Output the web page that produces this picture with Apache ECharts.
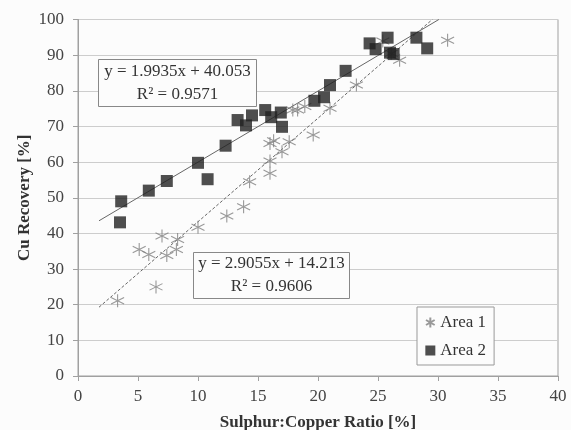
<!DOCTYPE html>
<html><head><meta charset="utf-8">
<script src="https://cdn.jsdelivr.net/npm/echarts@6/dist/echarts.min.js"></script>
<style>html,body{margin:0;padding:0;background:#fcfcfc}#c{width:571px;height:430px}</style>
</head><body><div id="c"></div>
<script>
const area1X = [3.3, 5.1, 5.9, 6.5, 7.0, 7.4, 8.2, 8.3, 10.0, 12.4, 13.8, 14.3, 16.0, 16.0, 16.0, 16.3, 17.0, 17.6, 17.9, 18.3, 18.9, 19.6, 21.0, 23.2, 25.4, 26.1, 26.8, 30.8];
const area1Y = [21.1, 35.5, 34.1, 25.0, 39.3, 33.8, 35.5, 38.3, 41.7, 44.9, 47.5, 54.5, 56.9, 60.3, 65.2, 66.0, 62.9, 65.7, 74.6, 74.6, 75.6, 67.6, 75.1, 81.6, 94.0, 90.5, 88.6, 94.2];
const area2X = [3.5, 3.6, 5.9, 7.4, 10.0, 10.8, 12.3, 13.3, 14.0, 14.5, 15.6, 16.1, 16.9, 17.0, 19.7, 20.5, 21.0, 22.3, 24.3, 24.8, 25.8, 26.0, 26.3, 28.2, 29.1];
const area2Y = [43.1, 49.0, 52.0, 54.7, 59.8, 55.2, 64.6, 71.8, 70.3, 73.1, 74.6, 72.6, 73.9, 69.9, 77.2, 78.2, 81.6, 85.6, 93.3, 91.7, 94.9, 90.7, 90.3, 94.9, 91.9];
const fit1 = {slope: 2.9055, intercept: 14.213, r2: 0.9606, x0: 1.75, x1: 29.53};
const fit2 = {slope: 1.9935, intercept: 40.053, r2: 0.9571, x0: 1.75, x1: 30.07};
const xTicks = {min: 0, max: 40, step: 5};
const yTicks = {min: 0, max: 100, step: 10};

const serif = '"Liberation Serif", "DejaVu Serif", serif';
const pts = (xs, ys) => xs.map((x, i) => [x, ys[i]]);
const fitLine = f => [[f.x0, f.slope * f.x0 + f.intercept], [f.x1, f.slope * f.x1 + f.intercept]];
const fmt = f => 'y = ' + f.slope + 'x + ' + f.intercept + '\nR² = ' + f.r2;
const starPath = 'path://M0,-10L0,10M-8.66,-5L8.66,5M-8.66,5L8.66,-5';

const chart = echarts.init(document.getElementById('c'));
chart.setOption({
  backgroundColor: '#fcfcfc',
  animation: false,
  grid: {left: 78, right: 13, top: 19.5, bottom: 54, show: true, borderColor: '#a0a0a0', borderWidth: 1,
         outerBoundsMode: 'none', containLabel: false},
  xAxis: {
    type: 'value', min: xTicks.min, max: xTicks.max, interval: xTicks.step,
    name: 'Sulphur:Copper Ratio [%]', nameLocation: 'middle', nameGap: 38, nameMoveOverlap: false,
    nameTextStyle: {fontFamily: serif, fontWeight: 'bold', fontSize: 17, color: '#333'},
    axisLine: {lineStyle: {color: '#a0a0a0'}},
    axisTick: {show: true, length: 5, lineStyle: {color: '#a0a0a0'}},
    axisLabel: {fontFamily: serif, fontSize: 17, color: '#444', margin: 12},
    splitLine: {show: false}
  },
  yAxis: {
    type: 'value', min: yTicks.min, max: yTicks.max, interval: yTicks.step,
    name: 'Cu Recovery [%]', nameLocation: 'middle', nameGap: 45, nameMoveOverlap: false,
    nameTextStyle: {fontFamily: serif, fontWeight: 'bold', fontSize: 17, color: '#333'},
    axisLine: {show: true, lineStyle: {color: '#a0a0a0'}},
    axisTick: {show: true, length: 5, lineStyle: {color: '#a0a0a0'}},
    axisLabel: {fontFamily: serif, fontSize: 17, color: '#444', margin: 14},
    splitLine: {lineStyle: {color: '#cdcdcd'}}
  },
  legend: {
    data: ['Area 1', 'Area 2'], orient: 'vertical', left: 417, top: 307,
    padding: [7, 8, 6, 8], itemGap: 11, itemWidth: 10, itemHeight: 10,
    borderColor: '#999', borderWidth: 1, backgroundColor: '#fcfcfc',
    textStyle: {fontFamily: serif, fontSize: 17, color: '#333'}
  },
  series: [
    {name: 'Area 1 fit', type: 'line', data: fitLine(fit1), symbol: 'none', silent: true,
     lineStyle: {color: '#666', width: 1, type: [3, 2]}, z: 1},
    {name: 'Area 2 fit', type: 'line', data: fitLine(fit2), symbol: 'none', silent: true,
     lineStyle: {color: '#666', width: 1}, z: 1},
    {name: 'Area 1', type: 'scatter', data: pts(area1X, area1Y), symbol: starPath, symbolSize: 13,
     itemStyle: {color: 'rgba(0,0,0,0)', borderColor: '#808080', borderWidth: 1.1}, z: 3},
    {name: 'Area 2', type: 'scatter', data: pts(area2X, area2Y), symbol: 'rect', symbolSize: 12,
     itemStyle: {color: '#222'}, z: 4}
  ],
  graphic: [
    {type: 'group', left: 98, top: 59, z: 100, children: [
      {type: 'rect', z: 100, shape: {x: 0, y: 0, width: 158, height: 47}, style: {fill: '#fcfcfc', stroke: '#888', lineWidth: 1}},
      {type: 'text', z: 101, x: 79, y: 23.5, style: {text: fmt(fit2), fontFamily: serif, fontSize: 17, fill: '#333', align: 'center', verticalAlign: 'middle', lineHeight: 23}}
    ]},
    {type: 'group', left: 193, top: 252, z: 100, children: [
      {type: 'rect', z: 100, shape: {x: 0, y: 0, width: 156, height: 46}, style: {fill: '#fcfcfc', stroke: '#888', lineWidth: 1}},
      {type: 'text', z: 101, x: 78, y: 23, style: {text: fmt(fit1), fontFamily: serif, fontSize: 17, fill: '#333', align: 'center', verticalAlign: 'middle', lineHeight: 23}}
    ]}
  ]
});
</script></body></html>
